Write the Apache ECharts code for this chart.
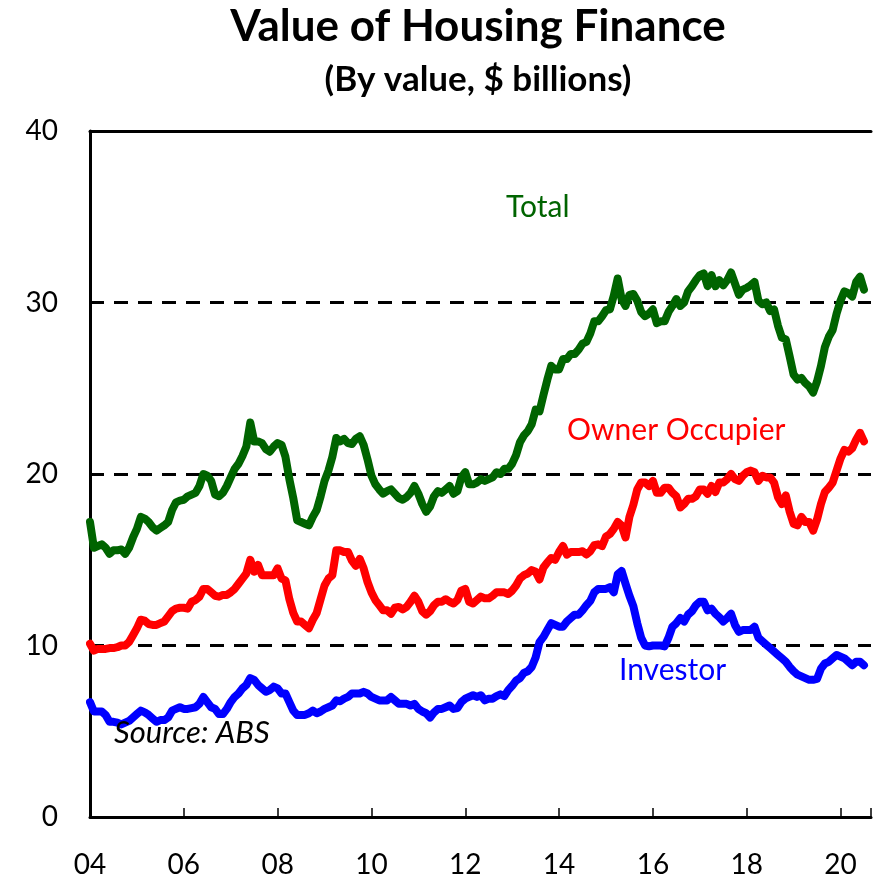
<!DOCTYPE html>
<html>
<head>
<meta charset="utf-8">
<title>Value of Housing Finance</title>
<script src="https://cdn.jsdelivr.net/npm/echarts@6/dist/echarts.min.js"></script>
<style>
  html, body { margin: 0; padding: 0; background: #fff; }
  #chart { width: 874px; height: 879px; }
</style>
</head>
<body>
<div id="chart"></div>
<script>
// monthly series, first point = Jan 2004
const startYear = 2004

const total = [
  17.2, 15.7, 15.8, 15.9, 15.7, 15.35, 15.55, 15.55, 15.6, 15.35, 15.7, 16.3,
  16.8, 17.5, 17.4, 17.2, 16.9, 16.7, 16.85, 17.0, 17.2, 17.9, 18.35, 18.45,
  18.5, 18.7, 18.8, 18.9, 19.3, 20.0, 19.9, 19.6, 18.8, 18.7, 18.9, 19.3,
  19.8, 20.3, 20.6, 21.05, 21.6, 23.0, 21.9, 21.9, 21.8, 21.45, 21.3, 21.6,
  21.8, 21.7, 21.0, 19.7, 18.6, 17.3, 17.2, 17.1, 17.0, 17.5, 17.9, 18.7,
  19.6, 20.2, 21.0, 22.1, 21.9, 22.05, 21.8, 21.75, 22.05, 22.2, 21.7, 20.85,
  19.9, 19.4, 19.1, 18.85, 19.0, 19.1, 18.85, 18.6, 18.5, 18.65, 18.9, 19.3,
  18.85, 18.25, 17.8, 18.1, 18.7, 19.0, 18.9, 19.1, 19.3, 18.85, 19.0, 19.8,
  20.1, 19.4, 19.4, 19.5, 19.7, 19.6, 19.7, 19.8, 20.1, 20.0, 20.3, 20.3,
  20.6, 21.1, 21.85, 22.25, 22.5, 22.9, 23.75, 23.65, 24.6, 25.5, 26.3, 26.1,
  26.1, 26.7, 26.7, 27.0, 27.0, 27.25, 27.6, 27.7, 28.2, 28.9, 28.9, 29.2,
  29.55, 29.6, 30.4, 31.4, 30.2, 29.8, 30.45, 30.5, 30.1, 29.45, 29.2, 29.35,
  29.6, 28.8, 28.9, 28.9, 29.45, 29.8, 30.2, 29.8, 30.0, 30.65, 30.95, 31.3,
  31.6, 31.7, 30.95, 31.6, 30.95, 31.3, 31.0, 31.3, 31.75, 31.1, 30.45, 30.75,
  30.85, 31.0, 31.2, 30.1, 29.9, 30.0, 29.5, 29.6, 28.65, 27.95, 27.85, 26.85,
  25.8, 25.5, 25.6, 25.3, 25.1, 24.75, 25.4, 26.3, 27.4, 28.0, 28.4, 29.35,
  30.1, 30.65, 30.55, 30.35, 31.2, 31.5, 30.75
]

const ownerOccupier = [
  10.1, 9.7, 9.8, 9.8, 9.8, 9.85, 9.85, 9.9, 10.0, 10.0, 10.2, 10.6,
  11.0, 11.5, 11.45, 11.25, 11.2, 11.2, 11.3, 11.4, 11.7, 12.0, 12.15, 12.2,
  12.2, 12.15, 12.55, 12.65, 12.85, 13.3, 13.3, 13.1, 12.9, 12.85, 12.95, 12.95,
  13.1, 13.3, 13.6, 13.9, 14.2, 15.0, 14.3, 14.7, 14.1, 14.1, 14.1, 14.1,
  14.5, 13.9, 13.8, 12.7, 11.9, 11.4, 11.4, 11.2, 11.0, 11.5, 11.9, 12.7,
  13.5, 13.9, 14.1, 15.55, 15.55, 15.45, 15.45, 14.95, 14.65, 15.05, 14.5, 13.7,
  13.1, 12.65, 12.35, 12.05, 12.05, 11.85, 12.2, 12.25, 12.1, 12.25, 12.55, 12.9,
  12.55, 12.0, 11.8, 12.0, 12.35, 12.55, 12.55, 12.7, 12.55, 12.45, 12.65, 13.2,
  13.3, 12.55, 12.45, 12.65, 12.85, 12.75, 12.75, 12.9, 13.1, 13.1, 13.1, 13.0,
  13.2, 13.5, 13.9, 14.1, 14.2, 14.4, 14.3, 13.85, 14.55, 14.85, 15.1, 15.0,
  15.45, 15.8, 15.3, 15.45, 15.45, 15.45, 15.5, 15.3, 15.5, 15.85, 15.9, 15.8,
  16.35, 16.5, 16.8, 17.2, 17.0, 16.3, 17.5, 18.2, 19.1, 19.5, 19.5, 19.3,
  19.6, 18.9, 18.9, 19.2, 19.2, 18.9, 18.7, 18.05, 18.25, 18.55, 18.55, 18.7,
  19.1, 19.1, 18.85, 19.3, 18.95, 19.5, 19.5, 19.7, 20.0, 19.7, 19.6, 19.9,
  20.1, 20.2, 20.1, 19.6, 19.9, 19.8, 19.8, 19.5, 18.65, 18.25, 18.75, 17.8,
  17.1, 17.0, 17.5, 17.2, 17.2, 16.7, 17.35, 18.25, 18.95, 19.2, 19.5, 20.2,
  20.9, 21.4, 21.3, 21.5, 22.0, 22.4, 21.9
]

const investor = [
  6.7, 6.15, 6.15, 6.15, 5.95, 5.55, 5.55, 5.5, 5.4, 5.5, 5.6, 5.8,
  6.0, 6.2, 6.1, 5.95, 5.75, 5.55, 5.65, 5.65, 5.8, 6.2, 6.3, 6.4,
  6.3, 6.3, 6.35, 6.4, 6.6, 7.0, 6.7, 6.4, 6.3, 6.0, 6.0, 6.3,
  6.7, 7.0, 7.2, 7.5, 7.7, 8.1, 8.0, 7.7, 7.5, 7.3, 7.4, 7.6,
  7.5, 7.2, 7.2, 6.7, 6.2, 5.95, 5.95, 5.95, 6.05, 6.2, 6.05, 6.15,
  6.3, 6.4, 6.5, 6.8, 6.75, 6.9, 7.0, 7.2, 7.2, 7.2, 7.3, 7.2,
  7.0, 6.9, 6.8, 6.8, 6.8, 7.0, 6.8, 6.6, 6.6, 6.6, 6.5, 6.6,
  6.3, 6.15, 6.05, 5.8, 6.1, 6.3, 6.3, 6.4, 6.5, 6.3, 6.35, 6.7,
  6.9, 7.0, 7.1, 7.0, 7.1, 6.8, 6.9, 6.9, 7.05, 7.15, 7.05, 7.4,
  7.65, 7.95, 8.1, 8.4, 8.5, 8.75, 9.3, 10.2, 10.5, 10.9, 11.3, 11.2,
  11.1, 11.1, 11.4, 11.6, 11.8, 11.8, 12.05, 12.35, 12.6, 13.1, 13.3, 13.3,
  13.3, 13.4, 13.1, 14.15, 14.35, 13.6, 12.9, 12.3, 11.3, 10.45, 10.0, 9.95,
  10.0, 10.0, 10.0, 9.95, 10.45, 11.1, 11.3, 11.6, 11.4, 11.8, 12.0, 12.35,
  12.55, 12.55, 12.05, 12.15, 11.85, 11.65, 11.4, 11.6, 11.85, 11.2, 10.8, 10.9,
  10.9, 10.9, 11.1, 10.45, 10.25, 10.05, 9.85, 9.65, 9.45, 9.25, 9.05, 8.75,
  8.5, 8.3, 8.2, 8.1, 8.0, 8.0, 8.05, 8.65, 8.95, 9.05, 9.25, 9.45,
  9.35, 9.25, 9.05, 8.85, 9.05, 9.05, 8.85
]

const yTicks = [0, 10, 20, 30, 40]

const fontFamily = 'Lato, "Liberation Sans", sans-serif'

// 把月度数组转换成 [年份, 数值]
const toPairs = (arr) => arr.map((v, i) => [startYear + i / 12, v])

const chart = echarts.init(document.getElementById('chart'))

const makeLine = (name, data, color) => ({
  name: name,
  type: 'line',
  xAxisIndex: 0,
  data: toPairs(data),
  showSymbol: false,
  smooth: false,
  lineStyle: { color: color, width: 8, cap: 'round', join: 'round' },
  itemStyle: { color: color },
  z: 5
})

// 画在图上的文字
const makeText = (text, x, y, font, color, align) => ({
  type: 'text',
  x: x,
  y: y,
  z: 10,
  style: {
    text: text,
    fill: color,
    font: font,
    textAlign: align || 'left',
    textVerticalAlign: 'middle'
  }
})

const option = {
  backgroundColor: '#fff',
  animation: false,
  grid: { left: 90, right: 0, top: 131, bottom: 60, containLabel: false },
  xAxis: [
    {
      type: 'value',
      min: 2004,
      max: 2020.65,
      interval: 2,
      axisLine: { show: true, lineStyle: { color: '#000', width: 3 } },
      axisTick: { show: true, inside: true, length: 9, lineStyle: { color: '#000', width: 1.5 } },
      axisLabel: {
        fontFamily: fontFamily,
        fontSize: 28,
        color: '#000',
        margin: 34,
        formatter: (v) => {
          if (Math.abs(v - Math.round(v)) > 1e-6) return ''
          return String(Math.round(v) % 100).padStart(2, '0')
        }
      },
      splitLine: { show: false }
    },
    {
      // 顶部的实线边框
      type: 'value',
      position: 'top',
      min: 2004,
      max: 2020.65,
      axisLine: { show: true, onZero: false, lineStyle: { color: '#000', width: 3 } },
      axisTick: { show: false },
      axisLabel: { show: false },
      splitLine: { show: false }
    }
  ],
  yAxis: {
    type: 'value',
    min: yTicks[0],
    max: yTicks[yTicks.length - 1],
    interval: 10,
    axisLine: { show: true, lineStyle: { color: '#000', width: 3 } },
    axisTick: { show: false },
    axisLabel: { fontFamily: fontFamily, fontSize: 28, color: '#000', margin: 32 },
    splitLine: { show: true, lineStyle: { color: '#000', width: 3, type: [14, 10] } }
  },
  series: [
    makeLine('Total', total, '#006400'),
    makeLine('Owner Occupier', ownerOccupier, '#ff0000'),
    makeLine('Investor', investor, '#0000ff')
  ],
  graphic: [
    makeText('Value of Housing Finance', 478, 27, 'bold 44px ' + fontFamily, '#000', 'center'),
    makeText('(By value, $ billions)', 478, 80, 'bold 35px ' + fontFamily, '#000', 'center'),
    makeText('Total', 506, 207, '30px ' + fontFamily, '#006400'),
    makeText('Owner Occupier', 567, 430, '30px ' + fontFamily, '#ff0000'),
    makeText('Investor', 619, 670, '30px ' + fontFamily, '#0000ff'),
    makeText('Source: ABS', 114, 733, 'italic 31px ' + fontFamily, '#000')
  ]
}

chart.setOption(option)
</script>
</body>
</html>
